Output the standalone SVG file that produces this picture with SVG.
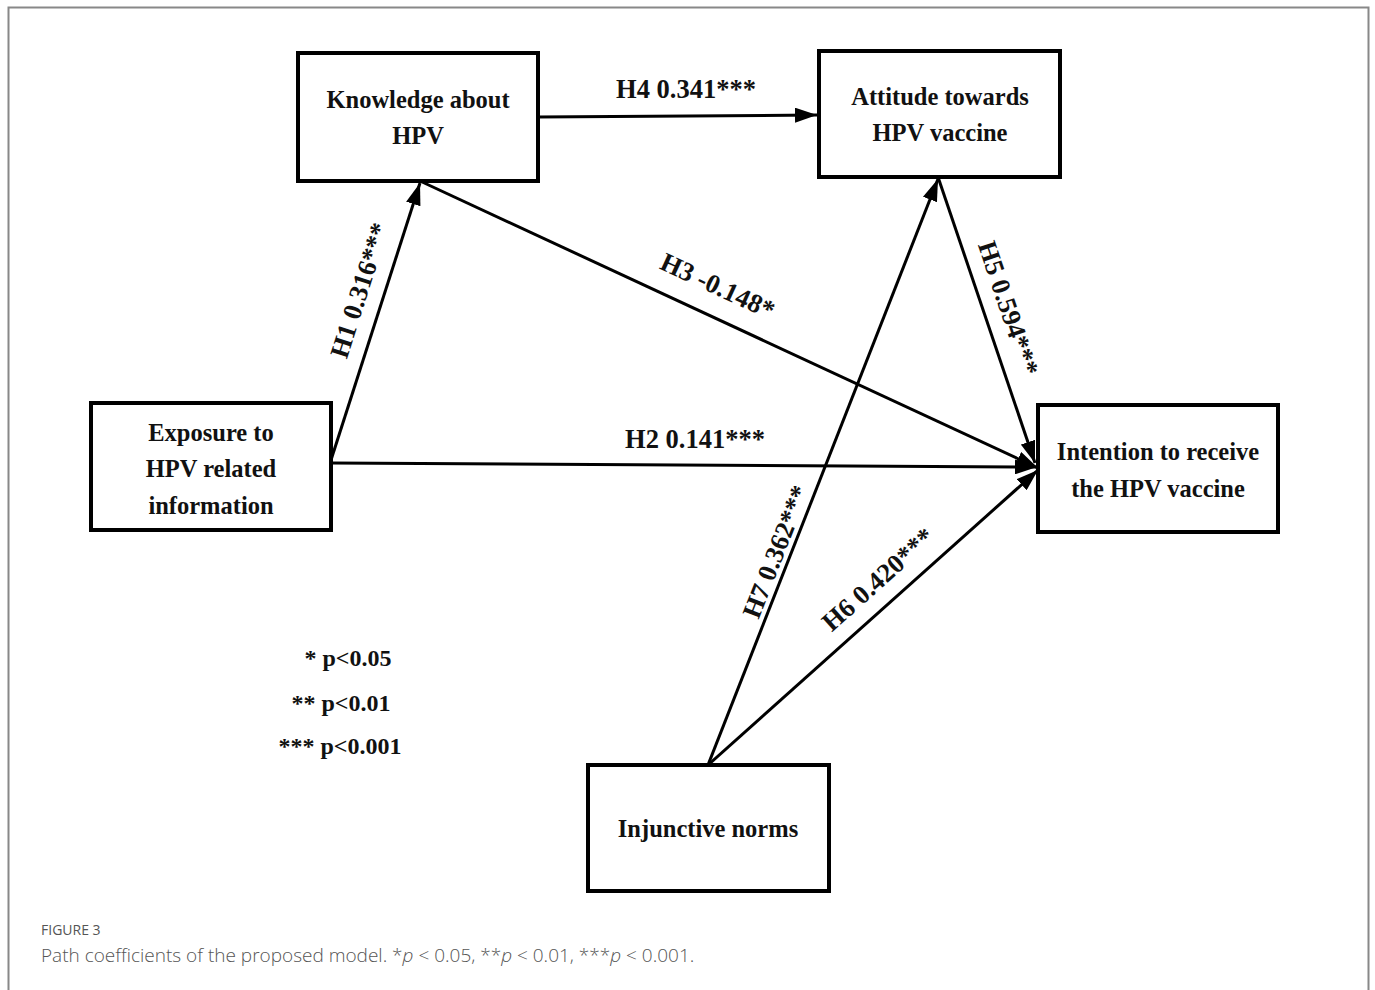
<svg xmlns="http://www.w3.org/2000/svg" width="1375" height="990" viewBox="0 0 1375 990">
<style>
.box{fill:#fff;stroke:#000;stroke-width:4}
.nt{font-family:"Liberation Serif","Times New Roman",serif;font-weight:bold;font-size:24.5px;fill:#111;text-anchor:middle}
.lg{font-family:"Liberation Serif","Times New Roman",serif;font-weight:bold;font-size:24px;fill:#111;text-anchor:middle}
.lb{font-family:"Liberation Serif","Times New Roman",serif;font-weight:bold;font-size:26.5px;fill:#111;text-anchor:middle}
.cn{stroke:#000;stroke-width:3;fill:none;marker-end:url(#ah)}
.cap1{font-family:"Open Sans","Noto Sans",sans-serif;font-size:14px;fill:#555}
.cap2{font-family:"Open Sans","Noto Sans",sans-serif;font-size:19px;fill:#555;font-weight:300}
</style>
<defs>
<marker id="ah" viewBox="0 0 22 15" refX="22" refY="7.5" markerWidth="22" markerHeight="15" markerUnits="userSpaceOnUse" orient="auto">
<path d="M0,0 L22,7.5 L0,15 Z" fill="#000"/>
</marker>
</defs>
<rect width="1375" height="990" fill="#fff"/>
<path d="M8.5,990 V7.5 H1368.5 V990" fill="none" stroke="#888" stroke-width="2"/>
<g id="connectors">
<line class="cn" x1="538" y1="117" x2="817" y2="115"/>
<line class="cn" x1="331" y1="460" x2="420" y2="183"/>
<line class="cn" x1="420" y1="181" x2="1038" y2="468"/>
<line class="cn" x1="331" y1="463" x2="1037" y2="467"/>
<line class="cn" x1="938" y1="177" x2="1035" y2="463"/>
<line class="cn" x1="708" y1="765" x2="938" y2="179"/>
<line class="cn" x1="708" y1="765" x2="1038" y2="470"/>
<text class="lb" x="686" y="98">H4 0.341***</text>
<text class="lb" x="695" y="448">H2 0.141***</text>
<text class="lb" transform="translate(368,293) rotate(-72.3)">H1 0.316***</text>
<text class="lb" transform="translate(714,294) rotate(24.9)">H3 -0.148*</text>
<text class="lb" transform="translate(1000,311) rotate(71.4)">H5 0.594***</text>
<text class="lb" transform="translate(784,555) rotate(-68.6)">H7 0.362***</text>
<text class="lb" transform="translate(884,586) rotate(-41.8)">H6 0.420***</text>
</g>
<g id="knowledge">
<rect class="box" x="298" y="53" width="240" height="128"/>
<text class="nt" x="418" y="108">Knowledge about</text>
<text class="nt" x="418" y="144">HPV</text>
</g>
<g id="attitude">
<rect class="box" x="819" y="51" width="241" height="126"/>
<text class="nt" x="940" y="105">Attitude towards</text>
<text class="nt" x="940" y="141">HPV vaccine</text>
</g>
<g id="exposure">
<rect class="box" x="91" y="403" width="240" height="127"/>
<text class="nt" x="211" y="441">Exposure to</text>
<text class="nt" x="211" y="477">HPV related</text>
<text class="nt" x="211" y="514">information</text>
</g>
<g id="intention">
<rect class="box" x="1038" y="405" width="240" height="127"/>
<text class="nt" x="1158" y="460">Intention to receive</text>
<text class="nt" x="1158" y="497">the HPV vaccine</text>
</g>
<g id="injunctive">
<rect class="box" x="588" y="765" width="241" height="126"/>
<text class="nt" x="708" y="837">Injunctive norms</text>
</g>
<g id="legend">
<text class="lg" x="348" y="666">* p&lt;0.05</text>
<text class="lg" x="341" y="711">** p&lt;0.01</text>
<text class="lg" x="340" y="754">*** p&lt;0.001</text>
</g>
<text class="cap1" x="41" y="935">FIGURE 3</text>
<text class="cap2" x="41" y="962">Path coefficients of the proposed model. *<tspan font-style="italic">p</tspan> &lt; 0.05, **<tspan font-style="italic">p</tspan> &lt; 0.01, ***<tspan font-style="italic">p</tspan> &lt; 0.001.</text>
</svg>
